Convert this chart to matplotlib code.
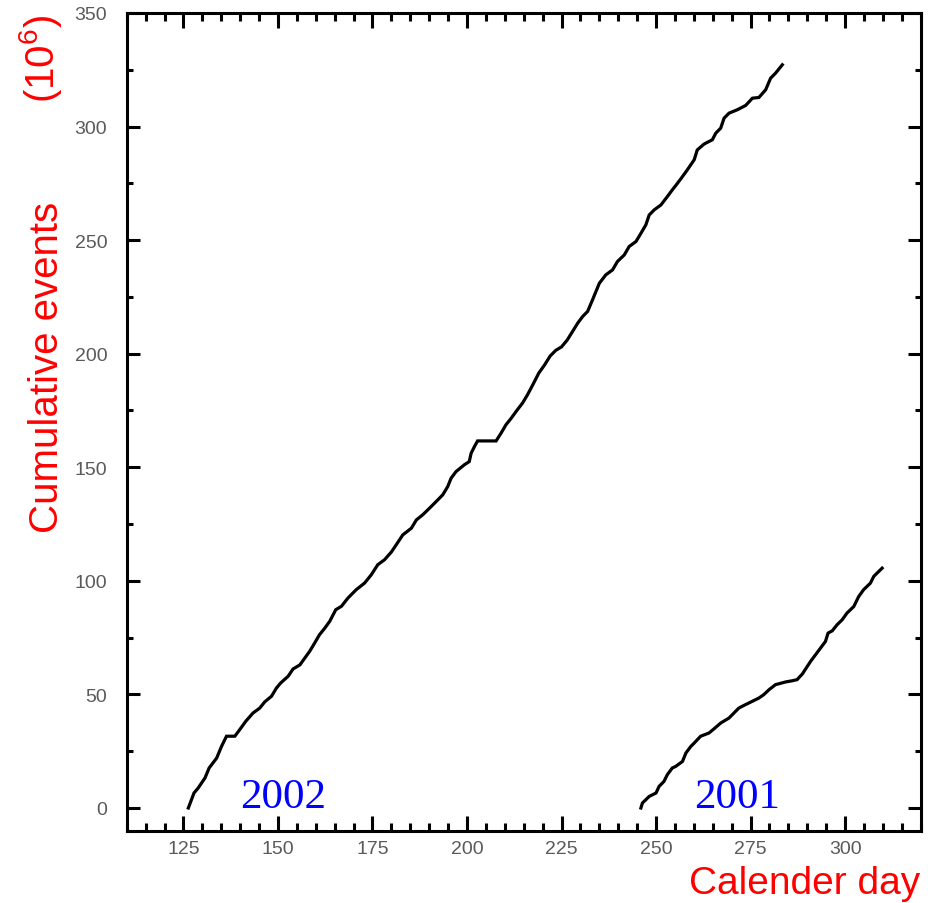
import matplotlib
matplotlib.use("Agg")
import matplotlib.pyplot as plt
from matplotlib.ticker import MultipleLocator

plt.rcParams['font.family'] = ['Liberation Sans', 'DejaVu Sans']
plt.rcParams['mathtext.default'] = 'regular'

# ---- data ----
days_2002 = [126.3, 127.8, 128.9, 130.7, 131.8, 133.8, 135.1, 136.4, 138.6, 139.9,
             141.5, 143.4, 145.2, 146.5, 148.3, 149.6, 150.7, 152.7, 154.0, 155.8,
             157.1, 158.4, 159.7, 161.0, 162.4, 163.7, 165.3, 166.8, 168.5, 170.7,
             172.9, 174.7, 176.4, 178.2, 180.0, 181.3, 183.0, 185.3, 186.6, 188.3,
             190.1, 191.9, 193.6, 194.9, 195.8, 197.1, 199.3, 200.6, 201.1, 202.0,
             202.8, 207.7, 209.0, 210.3, 211.7, 213.0, 214.7, 216.0, 217.4, 219.0,
             220.5, 222.0, 223.5, 225.0, 226.5, 228.0, 229.3, 230.6, 231.9, 233.2,
             235.0, 236.7, 238.5, 239.8, 241.6, 242.9, 244.7, 246.0, 247.3, 248.2,
             249.5, 251.3, 253.0, 254.3, 255.7, 257.0, 258.3, 260.1, 260.9, 262.7,
             264.9, 265.8, 267.1, 268.0, 269.3, 271.5, 273.7, 275.5, 277.2, 279.0,
             280.3, 281.6, 283.4]
events_2002 = [0.0, 6.6, 8.8, 13.2, 17.6, 22.0, 27.2, 31.6, 31.6, 34.5,
               38.2, 41.8, 44.0, 46.7, 49.2, 52.8, 55.0, 58.0, 61.2, 63.0,
               66.0, 69.0, 72.6, 76.3, 79.2, 82.2, 87.3, 88.8, 92.4, 96.1,
               99.0, 102.7, 107.1, 109.3, 112.7, 115.9, 120.2, 123.2, 126.8, 129.1,
               132.0, 135.0, 137.9, 141.5, 145.2, 148.1, 151.1, 152.5, 156.2, 159.2,
               161.6, 161.6, 165.0, 168.7, 171.6, 174.6, 178.3, 181.9, 186.3, 191.5,
               195.0, 199.0, 201.5, 203.0, 206.0, 210.0, 213.5, 216.4, 218.6, 223.7,
               231.0, 234.7, 236.9, 240.6, 243.5, 247.2, 249.4, 253.0, 256.7, 261.1,
               263.3, 265.5, 269.2, 272.1, 275.1, 278.0, 281.0, 285.4, 289.7, 292.3,
               294.2, 297.1, 299.3, 303.7, 305.9, 307.4, 309.3, 312.5, 312.8, 316.2,
               321.3, 323.5, 327.2]

days_2001 = [246.0, 246.4, 248.2, 250.0, 250.8, 252.1, 253.0, 254.3, 255.2, 257.0,
             257.9, 259.2, 260.1, 261.8, 264.0, 265.3, 267.1, 269.3, 270.6, 271.9,
             273.3, 275.5, 277.2, 278.5, 279.9, 281.6, 284.3, 286.0, 287.3, 288.7,
             289.6, 290.9, 292.2, 293.5, 294.8, 295.5, 296.6, 297.9, 299.2, 300.5,
             302.3, 303.6, 304.9, 306.7, 307.6, 309.8]
events_2001 = [0.0, 2.2, 5.1, 6.6, 9.5, 11.7, 14.7, 17.6, 18.3, 20.5,
               24.2, 27.1, 28.6, 31.6, 33.0, 34.8, 37.4, 39.6, 41.8, 44.0,
               45.2, 47.0, 48.4, 49.9, 52.1, 54.3, 55.5, 56.0, 56.5, 59.0,
               61.3, 64.6, 67.5, 70.4, 73.3, 77.0, 78.0, 80.7, 82.8, 85.8,
               88.7, 93.1, 96.1, 99.0, 102.0, 105.6]

year_labels = ["2002", "2001"]
year_label_x = [140, 260]

xlabel = "Calender day"
ylabel_main = "Cumulative events"
ylabel_unit = "(10$^{6}$)"

# ---- figure ----
W, H = 932, 904
fig = plt.figure(figsize=(W / 100, H / 100), dpi=100)
ax = fig.add_axes([126.7 / W, 1 - 831.7 / H, (920.7 - 126.7) / W, (831.7 - 14) / H])

ax.plot(days_2002, events_2002, color='black', lw=2.3, solid_joinstyle='miter')
ax.plot(days_2001, events_2001, color='black', lw=2.3, solid_joinstyle='miter')

for lab, xx in zip(year_labels, year_label_x):
    ax.text(xx, 0.5, lab, color='#0000ff', fontsize=31, family='Liberation Serif',
            ha='left', va='baseline')

ax.set_xlim(110, 320)
ax.set_ylim(-10, 350)

ax.xaxis.set_major_locator(MultipleLocator(25))
ax.xaxis.set_minor_locator(MultipleLocator(5))
ax.yaxis.set_major_locator(MultipleLocator(50))
ax.yaxis.set_minor_locator(MultipleLocator(25))

for sp in ax.spines.values():
    sp.set_linewidth(2.2)

ax.tick_params(axis='both', which='both', direction='in', top=True, right=True,
               width=2.2, color='black', labelcolor='#5a5a5a', labelsize=14)
ax.tick_params(axis='x', which='major', length=11, pad=7)
ax.tick_params(axis='x', which='minor', length=5.8)
ax.tick_params(axis='y', which='major', length=9.5, pad=14)
ax.tick_params(axis='y', which='minor', length=4.5)

fig.text(920 / W, 1 - 894 / H, xlabel, color='#ff0000', fontsize=28,
         ha='right', va='baseline')
fig.text(47 / W, 1 - 533 / H, ylabel_main, color='#ff0000', fontsize=29,
         rotation=90, ha='center', va='bottom')
fig.text(40 / W, 1 - 15 / H, ylabel_unit, color='#ff0000', fontsize=29,
         rotation=90, ha='center', va='top')

fig.savefig("out.png", dpi=100)
